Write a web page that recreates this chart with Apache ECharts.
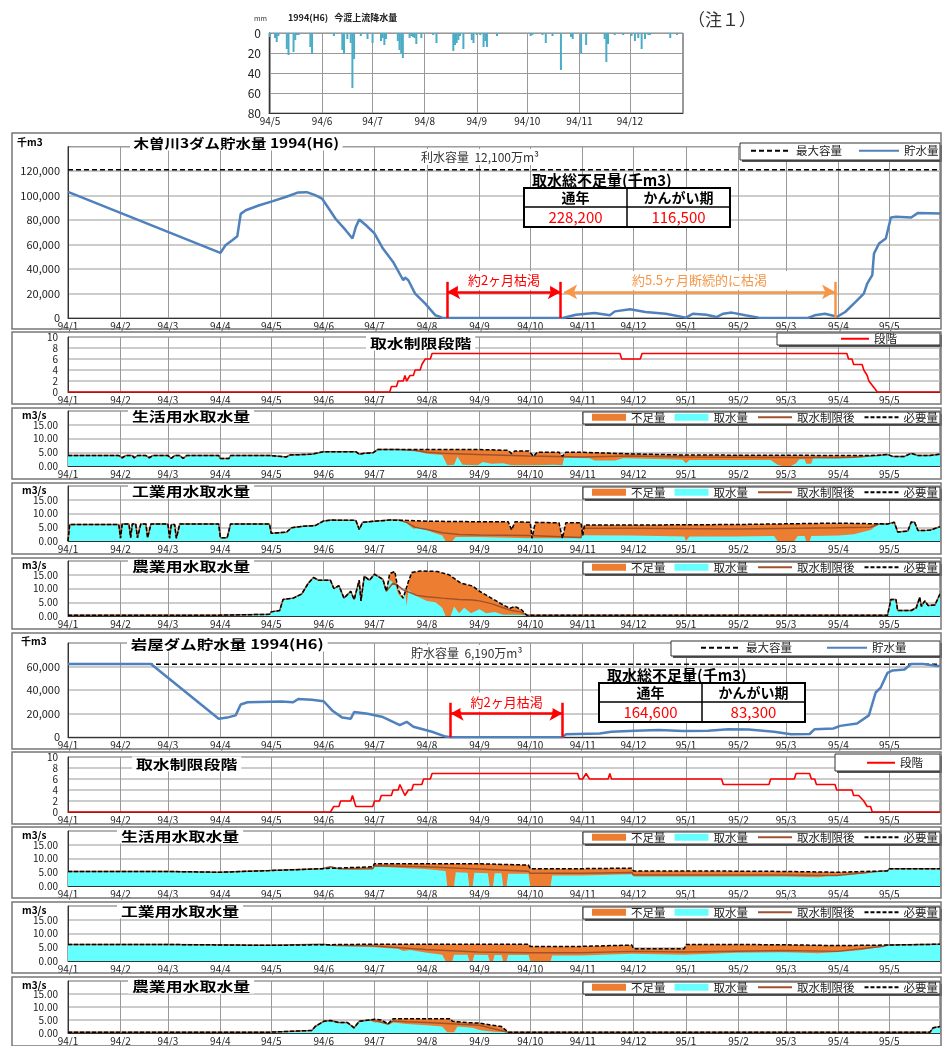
<!DOCTYPE html>
<html>
<head>
<meta charset="utf-8">
<script src="https://cdn.jsdelivr.net/npm/echarts@6/dist/echarts.min.js"></script>
<style>
html,body{margin:0;padding:0;background:#fff;}
#chart{width:942px;height:1046px;}
</style>
</head>
<body>
<div id="chart"></div>
<script>
// ---------------- data ----------------
// daily rainfall upstream of Imawatari (mm)
const rainfall = [['1994-05-01',4],['1994-05-04',5],['1994-05-05',9],['1994-05-06',3],['1994-05-11',16],['1994-05-12',22],['1994-05-15',19],['1994-05-16',7],['1994-05-17',2],['1994-05-18',2],['1994-05-25',14],['1994-05-26',21],['1994-06-08',3],['1994-06-13',17],['1994-06-14',21],['1994-06-16',6],['1994-06-18',10],['1994-06-19',55],['1994-06-20',26],['1994-06-24',3],['1994-06-28',6],['1994-07-01',10],['1994-07-06',8],['1994-07-07',5],['1994-07-08',12],['1994-07-09',6],['1994-07-16',8],['1994-07-17',17],['1994-07-18',20],['1994-07-19',25],['1994-07-23',5],['1994-07-24',3],['1994-07-25',4],['1994-07-26',5],['1994-07-27',11],['1994-07-30',5],['1994-08-06',2],['1994-08-08',10],['1994-08-18',18],['1994-08-19',12],['1994-08-20',10],['1994-08-21',7],['1994-08-22',3],['1994-08-24',16],['1994-08-29',7],['1994-08-30',10],['1994-09-01',2],['1994-09-03',2],['1994-09-05',14],['1994-09-06',8],['1994-09-07',14],['1994-09-13',3],['1994-10-03',3],['1994-10-04',2],['1994-10-10',2],['1994-10-12',10],['1994-10-16',3],['1994-10-21',37],['1994-10-27',4],['1994-10-28',6],['1994-11-02',20],['1994-11-05',12],['1994-11-16',6],['1994-11-17',29],['1994-11-18',11],['1994-11-22',2],['1994-11-27',2],['1994-12-02',3],['1994-12-04',8],['1994-12-06',5],['1994-12-08',16],['1994-12-10',6],['1994-12-12',2],['1994-12-13',2],['1994-12-25',5],['1994-12-29',2]];

// Kiso river 3 dams: storage (thousand m3)
const kisoCapacity = 121000;
const kisoStorage = [['1994-01-01',103000],['1994-04-01',53100],['1994-04-04',59400],['1994-04-08',63500],['1994-04-11',66800],['1994-04-13',85000],['1994-04-16',88000],['1994-04-24',92000],['1994-05-02',95400],['1994-05-10',99000],['1994-05-17',102500],['1994-05-22',102700],['1994-05-27',100300],['1994-05-31',97500],['1994-06-04',89400],['1994-06-08',81000],['1994-06-14',71700],['1994-06-18',64900],['1994-06-20',74400],['1994-06-22',80400],['1994-06-26',75700],['1994-07-01',69000],['1994-07-06',56700],['1994-07-12',45800],['1994-07-18',30800],['1994-07-19',33000],['1994-07-21',30800],['1994-07-25',19900],['1994-07-31',11700],['1994-08-06',2200],['1994-08-10',300],['1994-08-14',0],['1994-10-20',0],['1994-10-28',2700],['1994-11-08',4000],['1994-11-17',2200],['1994-11-20',5400],['1994-11-29',7100],['1994-12-08',4900],['1994-12-20',3500],['1995-01-01',300],['1995-01-05',3500],['1995-01-13',2700],['1995-01-19',800],['1995-01-23',3500],['1995-01-28',4400],['1995-02-05',2200],['1995-02-13',300],['1995-03-14',0],['1995-03-18',2200],['1995-03-24',3500],['1995-03-29',1900],['1995-03-31',800],['1995-04-05',4900],['1995-04-11',13000],['1995-04-16',19900],['1995-04-18',28000],['1995-04-21',35000],['1995-04-22',52600],['1995-04-25',60800],['1995-04-29',64900],['1995-05-02',82000],['1995-05-05',82600],['1995-05-14',82000],['1995-05-18',85800],['1995-05-31',85300]];
const kisoStage = [['1994-01-01',0],['1994-07-10',0],['1994-07-11',1],['1994-07-14',1],['1994-07-15',2],['1994-07-18',2],['1994-07-19',3],['1994-07-20',2],['1994-07-21',2],['1994-07-22',3],['1994-07-24',3],['1994-07-25',4],['1994-07-28',4],['1994-07-29',5],['1994-07-30',5],['1994-07-31',6],['1994-08-03',6],['1994-08-04',7],['1994-11-23',7],['1994-11-24',6],['1994-12-05',6],['1994-12-06',7],['1995-04-06',7],['1995-04-07',6],['1995-04-09',6],['1995-04-10',5],['1995-04-15',5],['1995-04-16',4],['1995-04-18',3],['1995-04-19',2],['1995-04-20',2],['1995-04-24',0],['1995-05-31',0]];
const kisoShortage = {annual:'228,200', irrigation:'116,500'};

// intake (m3/s): required, actual intake and restricted target during the restriction period
const kisoDomRequired = [['1994-01-01',3.8],['1994-01-31',3.8],['1994-02-02',3.0],['1994-02-04',3.8],['1994-02-08',3.8],['1994-02-09',3.0],['1994-02-11',3.8],['1994-02-16',3.8],['1994-02-18',3.0],['1994-02-20',3.8],['1994-03-01',3.8],['1994-03-03',2.8],['1994-03-05',3.8],['1994-03-08',3.8],['1994-03-10',2.8],['1994-03-12',3.8],['1994-03-31',3.8],['1994-04-01',2.7],['1994-04-06',2.7],['1994-04-07',3.8],['1994-04-30',3.8],['1994-05-01',3.3],['1994-05-10',3.3],['1994-05-12',4.0],['1994-05-25',4.3],['1994-06-01',5.2],['1994-06-20',5.2],['1994-06-22',4.3],['1994-06-25',4.6],['1994-06-30',4.8],['1994-07-03',6.0],['1994-08-31',6.0],['1994-09-01',5.7],['1994-09-18',5.7],['1994-09-20',4.5],['1994-09-22',5.5],['1994-09-30',5.5],['1994-10-01',5.0],['1994-10-03',3.5],['1994-10-05',5.0],['1994-10-18',5.0],['1994-10-20',3.5],['1994-10-22',5.0],['1994-10-31',5.0],['1994-11-01',4.4],['1994-11-30',4.4],['1994-12-01',4.0],['1994-12-31',4.0],['1995-01-01',3.8],['1995-04-20',3.8],['1995-04-30',4.2],['1995-05-01',4.7],['1995-05-03',3.5],['1995-05-10',3.5],['1995-05-14',4.6],['1995-05-18',3.8],['1995-05-25',3.8],['1995-05-31',4.3]];
const kisoDomIntake = [['1994-07-15',6.0],['1994-07-25',5.5],['1994-08-01',4.5],['1994-08-10',4.0],['1994-08-13',0.3],['1994-08-17',0.5],['1994-08-19',3.5],['1994-08-22',0.5],['1994-08-31',0.3],['1994-09-03',1.5],['1994-09-08',0.8],['1994-09-15',1.0],['1994-09-20',0.3],['1994-10-05',0.3],['1994-10-15',0.5],['1994-10-20',0.3],['1994-10-21',3.0],['1994-11-05',2.8],['1994-11-08',2.0],['1994-11-20',2.0],['1994-11-25',2.8],['1994-12-20',2.5],['1994-12-30',2.3],['1995-01-01',1.0],['1995-01-03',2.2],['1995-02-20',2.2],['1995-02-24',0.5],['1995-02-27',0.0],['1995-03-04',0.0],['1995-03-07',1.0],['1995-03-09',2.5],['1995-03-12',2.5],['1995-03-13',0.8],['1995-03-16',0.8],['1995-03-17',2.8],['1995-04-01',3.0],['1995-04-15',3.2],['1995-04-20',3.6],['1995-04-25',3.8]];
const kisoDomRestricted = [['1994-07-15',6.0],['1994-07-25',5.6],['1994-08-01',5.0],['1994-08-10',4.6],['1994-08-31',4.2],['1994-09-01',3.8],['1994-09-30',3.6],['1994-10-01',3.3],['1994-10-31',3.3],['1994-11-01',3.6],['1994-11-30',3.6],['1994-12-01',3.3],['1994-12-31',3.3],['1995-01-01',3.0],['1995-03-31',3.0],['1995-04-10',3.2],['1995-04-20',3.6],['1995-04-25',3.8]];

const kisoIndRequired = [['1994-01-01',0.0],['1994-01-02',6.0],['1994-01-31',6.0],['1994-02-01',1.0],['1994-02-02',6.2],['1994-02-06',6.2],['1994-02-07',1.2],['1994-02-08',6.2],['1994-02-10',6.2],['1994-02-11',1.2],['1994-02-13',6.2],['1994-02-16',6.2],['1994-02-17',1.2],['1994-02-19',6.2],['1994-03-01',6.2],['1994-03-02',1.0],['1994-03-03',6.0],['1994-03-05',6.0],['1994-03-06',1.0],['1994-03-08',6.2],['1994-03-31',6.2],['1994-04-01',1.2],['1994-04-05',1.2],['1994-04-07',6.2],['1994-04-30',6.2],['1994-05-01',2.8],['1994-05-10',3.2],['1994-05-13',4.8],['1994-05-20',5.4],['1994-05-27',5.6],['1994-06-01',7.3],['1994-06-05',7.6],['1994-06-20',7.5],['1994-06-22',4.2],['1994-06-24',6.8],['1994-07-01',7.2],['1994-07-10',7.6],['1994-07-20',7.5],['1994-08-01',7.2],['1994-08-31',7.0],['1994-09-18',7.0],['1994-09-20',4.0],['1994-09-22',7.0],['1994-10-01',6.8],['1994-10-02',1.0],['1994-10-04',6.8],['1994-10-18',6.6],['1994-10-20',1.0],['1994-10-22',6.6],['1994-10-31',6.6],['1994-11-01',2.0],['1994-11-02',5.8],['1994-11-30',5.8],['1994-12-01',6.0],['1995-01-31',6.0],['1995-02-01',6.5],['1995-03-31',6.5],['1995-04-01',6.2],['1995-04-30',6.2],['1995-05-01',6.6],['1995-05-04',6.8],['1995-05-06',3.3],['1995-05-12',3.6],['1995-05-14',6.9],['1995-05-16',6.8],['1995-05-18',3.8],['1995-05-25',3.9],['1995-05-31',5.2]];
const kisoIndIntake = [['1994-07-15',7.6],['1994-07-20',6.5],['1994-07-24',4.5],['1994-07-28',5.0],['1994-08-01',4.0],['1994-08-05',3.0],['1994-08-10',2.0],['1994-08-12',0.0],['1994-08-16',0.0],['1994-08-18',1.5],['1994-09-01',1.5],['1994-09-30',1.0],['1994-10-31',1.0],['1994-11-01',2.1],['1994-11-30',2.0],['1994-12-01',1.8],['1994-12-31',1.6],['1995-01-01',0.0],['1995-01-03',1.6],['1995-01-31',1.6],['1995-02-01',1.8],['1995-02-22',1.8],['1995-02-24',0.0],['1995-03-06',0.0],['1995-03-08',1.8],['1995-03-12',1.8],['1995-03-13',0.0],['1995-03-15',0.0],['1995-03-16',1.8],['1995-04-01',2.0],['1995-04-10',2.5],['1995-04-20',4.0],['1995-04-25',6.2]];
const kisoIndRestricted = [['1994-07-15',7.6],['1994-07-20',6.8],['1994-07-25',5.0],['1994-08-01',4.2],['1994-08-10',3.0],['1994-08-20',2.4],['1994-09-01',2.2],['1994-09-30',2.0],['1994-10-01',1.5],['1994-10-31',1.3],['1994-11-01',4.6],['1994-11-30',4.6],['1994-12-01',4.4],['1995-01-31',4.4],['1995-02-01',4.8],['1995-03-31',4.8],['1995-04-01',4.6],['1995-04-20',5.0],['1995-04-25',6.2]];

const kisoAgrRequired = [['1994-01-01',0.3],['1994-03-31',0.3],['1994-04-01',0.6],['1994-04-30',0.6],['1994-05-01',1.5],['1994-05-06',2.0],['1994-05-08',6.0],['1994-05-14',6.5],['1994-05-19',8.0],['1994-05-23',12.0],['1994-05-26',14.0],['1994-05-29',13.0],['1994-06-05',13.0],['1994-06-07',10.0],['1994-06-10',11.0],['1994-06-13',6.5],['1994-06-17',9.0],['1994-06-19',6.0],['1994-06-22',13.0],['1994-06-23',5.5],['1994-06-25',14.5],['1994-06-28',13.0],['1994-07-01',15.2],['1994-07-06',13.3],['1994-07-08',9.0],['1994-07-10',15.4],['1994-07-13',16.2],['1994-07-15',9.5],['1994-07-18',6.5],['1994-07-21',12.5],['1994-07-23',15.8],['1994-07-28',16.4],['1994-08-07',16.2],['1994-08-14',15.0],['1994-08-21',12.0],['1994-08-28',10.9],['1994-09-01',9.0],['1994-09-08',6.5],['1994-09-15',4.0],['1994-09-19',2.8],['1994-09-22',3.5],['1994-09-26',2.2],['1994-09-29',0.3],['1995-04-30',0.3],['1995-05-02',6.0],['1995-05-05',6.0],['1995-05-06',2.0],['1995-05-14',2.0],['1995-05-17',3.0],['1995-05-19',6.8],['1995-05-20',3.5],['1995-05-22',5.5],['1995-05-24',3.8],['1995-05-28',4.0],['1995-05-31',8.0]];
const kisoAgrIntake = [['1994-07-08',9.0],['1994-07-10',13.0],['1994-07-13',12.0],['1994-07-15',8.0],['1994-07-18',6.0],['1994-07-19',10.0],['1994-07-20',3.5],['1994-07-21',9.5],['1994-07-25',7.5],['1994-08-01',5.5],['1994-08-06',5.0],['1994-08-10',3.0],['1994-08-12',0.0],['1994-08-15',0.0],['1994-08-17',3.5],['1994-08-20',1.0],['1994-08-23',3.0],['1994-08-27',1.0],['1994-09-01',2.5],['1994-09-05',1.0],['1994-09-10',1.5],['1994-09-15',0.5],['1994-09-22',0.5],['1994-09-29',0.3]];
const kisoAgrRestricted = [['1994-07-08',9.0],['1994-07-12',12.0],['1994-07-15',11.0],['1994-07-18',9.5],['1994-07-22',8.5],['1994-07-26',7.5],['1994-08-01',7.0],['1994-08-10',6.5],['1994-08-20',6.0],['1994-08-28',5.8],['1994-09-01',5.5],['1994-09-08',4.5],['1994-09-15',3.0],['1994-09-20',2.0],['1994-09-25',1.5],['1994-09-29',0.3]];

// Iwaya dam
const iwayaCapacity = 61900;
const iwayaStorage = [['1994-01-01',62200],['1994-02-19',62200],['1994-03-31',15800],['1994-04-05',16700],['1994-04-10',18600],['1994-04-13',27800],['1994-04-17',29700],['1994-05-07',30300],['1994-05-14',29700],['1994-05-17',32500],['1994-05-25',31900],['1994-06-01',30600],['1994-06-06',22800],['1994-06-12',16700],['1994-06-17',15800],['1994-06-19',21400],['1994-06-27',20000],['1994-07-06',17200],['1994-07-16',10300],['1994-07-20',13100],['1994-07-24',8900],['1994-08-04',4700],['1994-08-12',600],['1994-08-15',0],['1994-10-20',0],['1994-10-22',2500],['1994-11-11',3300],['1994-11-18',4700],['1994-12-02',5600],['1994-12-16',6100],['1994-12-30',5300],['1995-01-14',5600],['1995-01-26',6900],['1995-02-07',6700],['1995-02-22',4700],['1995-03-04',2500],['1995-03-15',2800],['1995-03-18',6900],['1995-03-29',7500],['1995-04-02',9700],['1995-04-12',11700],['1995-04-19',18600],['1995-04-23',38000],['1995-04-26',42200],['1995-04-30',54700],['1995-05-03',56700],['1995-05-10',57500],['1995-05-14',62200],['1995-05-21',62200],['1995-05-28',60800],['1995-05-31',60500]];
const iwayaStage = [['1994-01-01',0],['1994-06-05',0],['1994-06-07',1],['1994-06-10',1],['1994-06-11',2],['1994-06-17',2],['1994-06-18',3],['1994-06-20',1],['1994-06-30',1],['1994-07-01',2],['1994-07-04',2],['1994-07-05',3],['1994-07-11',3],['1994-07-12',4],['1994-07-15',4],['1994-07-16',5],['1994-07-19',3],['1994-07-21',4],['1994-07-23',4],['1994-07-24',5],['1994-07-29',5],['1994-07-30',6],['1994-08-03',6],['1994-08-04',7],['1994-10-29',7],['1994-10-30',6],['1994-11-01',6],['1994-11-03',7],['1994-11-05',6],['1994-11-16',6],['1994-11-17',7],['1994-11-18',6],['1995-01-22',6],['1995-01-23',5],['1995-02-19',5],['1995-02-20',6],['1995-03-06',6],['1995-03-07',7],['1995-03-15',7],['1995-03-16',6],['1995-03-18',6],['1995-03-19',5],['1995-03-30',5],['1995-03-31',4],['1995-04-09',4],['1995-04-10',3],['1995-04-13',3],['1995-04-16',2],['1995-04-18',1],['1995-04-20',1],['1995-04-21',0],['1995-05-31',0]];
const iwayaShortage = {annual:'164,600', irrigation:'83,300'};

const iwayaDomRequired = [['1994-01-01',5.3],['1994-02-28',5.3],['1994-03-01',5.0],['1994-03-31',5.0],['1994-04-01',5.6],['1994-04-30',5.6],['1994-05-01',6.3],['1994-05-31',6.3],['1994-06-01',7.0],['1994-06-30',7.0],['1994-07-01',8.1],['1994-08-31',8.1],['1994-09-01',7.6],['1994-09-30',7.6],['1994-10-01',6.3],['1994-10-31',6.3],['1994-11-01',6.5],['1994-11-30',6.5],['1994-12-01',5.5],['1994-12-31',5.5],['1995-01-01',5.3],['1995-02-28',5.3],['1995-03-01',5.0],['1995-03-31',5.0],['1995-04-01',5.5],['1995-04-30',5.5],['1995-05-01',6.3],['1995-05-31',6.3]];
const iwayaDomIntake = [['1994-06-05',7.0],['1994-06-08',6.2],['1994-06-20',6.0],['1994-06-30',6.2],['1994-07-01',7.0],['1994-07-10',6.8],['1994-07-20',6.5],['1994-07-31',6.2],['1994-08-01',6.0],['1994-08-12',5.5],['1994-08-13',0.0],['1994-08-17',0.0],['1994-08-18',5.0],['1994-08-25',4.8],['1994-08-26',0.0],['1994-08-28',0.0],['1994-08-29',4.8],['1994-09-06',4.6],['1994-09-07',0.0],['1994-09-09',0.0],['1994-09-10',4.6],['1994-09-14',4.6],['1994-09-15',0.0],['1994-09-17',0.0],['1994-09-18',4.5],['1994-09-30',4.5],['1994-10-01',0.0],['1994-10-13',0.0],['1994-10-14',3.8],['1994-10-31',3.8],['1994-11-01',4.3],['1994-11-30',4.3],['1994-12-01',3.5],['1995-02-28',3.5],['1995-03-01',3.0],['1995-03-20',3.2],['1995-04-01',4.0],['1995-04-15',4.5],['1995-04-28',5.5]];
const iwayaDomRestricted = [['1994-06-05',7.0],['1994-06-10',6.3],['1994-06-30',6.3],['1994-07-01',7.4],['1994-07-31',7.0],['1994-08-01',6.6],['1994-08-31',6.2],['1994-09-01',5.8],['1994-09-30',5.4],['1994-10-01',4.6],['1994-10-31',4.6],['1994-11-01',4.9],['1994-11-30',4.9],['1994-12-01',4.0],['1995-02-28',4.0],['1995-03-01',3.6],['1995-03-31',3.8],['1995-04-01',4.5],['1995-04-28',5.5]];

const iwayaIndRequired = [['1994-01-01',6.0],['1994-02-28',6.0],['1994-03-01',5.7],['1994-04-30',5.7],['1994-05-01',6.1],['1994-06-30',6.1],['1994-07-01',5.9],['1994-09-30',6.1],['1994-10-01',5.3],['1994-10-31',5.3],['1994-11-01',5.8],['1994-11-30',5.8],['1994-12-01',4.5],['1994-12-31',4.5],['1995-01-01',6.0],['1995-01-31',6.0],['1995-02-01',5.9],['1995-02-28',5.9],['1995-03-01',5.6],['1995-03-31',5.6],['1995-04-01',5.8],['1995-04-30',5.8],['1995-05-01',6.1],['1995-05-31',6.1]];
const iwayaIndIntake = [['1994-06-01',6.1],['1994-06-05',5.5],['1994-06-20',5.3],['1994-07-01',5.0],['1994-07-15',4.5],['1994-07-18',3.6],['1994-07-22',4.0],['1994-08-01',3.0],['1994-08-10',2.3],['1994-08-12',0.0],['1994-08-16',0.0],['1994-08-17',2.3],['1994-08-25',2.3],['1994-08-26',0.0],['1994-08-28',0.0],['1994-08-29',2.3],['1994-09-06',2.2],['1994-09-07',0.0],['1994-09-09',0.0],['1994-09-10',2.2],['1994-09-14',2.2],['1994-09-15',0.0],['1994-09-17',0.0],['1994-09-18',2.2],['1994-09-30',2.2],['1994-10-01',0.0],['1994-10-13',0.0],['1994-10-14',2.0],['1994-10-31',2.0],['1994-11-01',2.6],['1994-11-30',2.6],['1994-12-01',2.3],['1994-12-31',2.3],['1995-01-01',3.0],['1995-01-31',3.0],['1995-02-01',3.2],['1995-02-28',3.2],['1995-03-01',2.5],['1995-03-20',2.8],['1995-04-01',3.3],['1995-04-15',4.0],['1995-04-28',5.4]];
const iwayaIndRestricted = [['1994-06-01',6.1],['1994-06-05',5.7],['1994-06-30',5.5],['1994-07-01',5.2],['1994-07-31',4.2],['1994-08-01',3.5],['1994-08-31',3.3],['1994-09-01',3.2],['1994-09-30',3.0],['1994-10-31',3.0],['1994-11-01',3.5],['1994-11-30',3.5],['1994-12-01',3.3],['1994-12-31',3.3],['1995-01-01',3.8],['1995-02-28',3.8],['1995-03-01',3.5],['1995-03-31',3.5],['1995-04-01',3.8],['1995-04-28',5.4]];

const iwayaAgrRequired = [['1994-01-01',0.3],['1994-04-30',0.3],['1994-05-01',1.0],['1994-05-25',1.0],['1994-05-27',2.5],['1994-06-01',4.5],['1994-06-05',4.8],['1994-06-10',4.0],['1994-06-15',4.0],['1994-06-19',2.0],['1994-06-22',4.5],['1994-06-28',5.0],['1994-07-01',5.3],['1994-07-05',5.0],['1994-07-09',3.5],['1994-07-12',5.5],['1994-08-15',5.5],['1994-08-16',4.5],['1994-08-25',4.0],['1994-09-01',3.8],['1994-09-08',3.0],['1994-09-14',2.5],['1994-09-18',0.3],['1995-05-25',0.3],['1995-05-27',2.0],['1995-05-31',2.5]];
const iwayaAgrIntake = [['1994-06-28',5.0],['1994-07-01',4.0],['1994-07-05',4.2],['1994-07-09',3.0],['1994-07-12',4.0],['1994-07-20',3.5],['1994-08-01',3.0],['1994-08-10',2.5],['1994-08-13',0.3],['1994-08-17',0.3],['1994-08-19',2.5],['1994-08-28',2.0],['1994-09-01',1.2],['1994-09-05',0.8],['1994-09-10',0.5],['1994-09-18',0.3]];
const iwayaAgrRestricted = [['1994-06-28',5.0],['1994-07-01',4.8],['1994-07-09',3.5],['1994-07-12',4.6],['1994-07-20',4.3],['1994-08-01',4.0],['1994-08-15',3.6],['1994-09-01',3.0],['1994-09-10',1.5],['1994-09-18',0.3]];

// dry-up spans marked on the storage charts
const kisoDrySpans = [
  {from:'1994-08-13', to:'1994-10-19', text:'約2ヶ月枯渇', color:'#FF0000'},
  {from:'1994-10-21', to:'1995-03-30', text:'約5.5ヶ月断続的に枯渇', color:'#F79646'}
];
const iwayaDrySpans = [
  {from:'1994-08-15', to:'1994-10-20', text:'約2ヶ月枯渇', color:'#FF0000'}
];

// ---------------- helpers ----------------
const FONT = "'Noto Sans CJK JP', 'Noto Sans', sans-serif";
const START = '1994-01-01', END = '1995-05-31';
const DAY = 86400000;
const ORANGE = '#ED7D31', CYAN = '#66FFFF', BROWN = '#A0522D', BLUE = '#4F81BD', RED = '#FF0000';
const NO_SYMBOL = {opacity: 0, color: 'rgba(0,0,0,0)', borderColor: 'rgba(0,0,0,0)', borderWidth: 0};

// required values outside the window, window values inside it
function blend(base, win) {
  const a = win[0][0], b = win[win.length - 1][0];
  return base.filter(p => p[0] < a).concat(win, base.filter(p => p[0] > b));
}
function monthLabelUntil(cutoff) {
  const limit = +new Date(cutoff);
  return function (v) {
    const d = new Date(v);
    if (+d >= limit) return '';
    return d.getDate() === 1 && d.getHours() === 0 ? (d.getFullYear() % 100) + '/' + (d.getMonth() + 1) : '';
  };
}

const grids = [], xAxes = [], yAxes = [], series = [], legends = [], graphics = [];

function addPanel(box, xmin, xmax, cutoff, yOpt) {
  const i = grids.length;
  grids.push(Object.assign({show: true, borderColor: '#444', borderWidth: 1, backgroundColor: '#fff'}, box));
  xAxes.push({
    type: 'time', gridIndex: i, min: xmin, max: xmax,
    minInterval: 28 * DAY, maxInterval: 31 * DAY, splitNumber: 20,
    axisLine: {show: true, onZero: false, lineStyle: {color: '#333'}},
    axisTick: {show: false},
    axisLabel: {formatter: monthLabelUntil(cutoff), fontSize: 10, color: '#222', margin: 3, fontFamily: FONT, hideOverlap: false},
    splitLine: {show: true, lineStyle: {color: '#999', width: 1}}
  });
  yAxes.push(Object.assign({
    type: 'value', gridIndex: i,
    axisLine: {show: true, lineStyle: {color: '#333'}},
    axisTick: {show: false},
    splitLine: {show: true, lineStyle: {color: '#bbb', width: 1.5}}
  }, yOpt, {
    axisLabel: Object.assign({fontSize: 10, color: '#222', margin: 9, fontFamily: FONT, showMaxLabel: false}, yOpt.axisLabel || {})
  }));
  return i;
}

function text(x, y, s, style, extra) {
  graphics.push(Object.assign({
    type: 'text', x: x, y: y, z: 20, silent: true,
    style: Object.assign({text: s, fontFamily: FONT, fontSize: 12, fill: '#222',
      align: 'left', verticalAlign: 'middle', textAlign: 'left', textVerticalAlign: 'middle'}, style)
  }, extra || {}));
}
function rect(x, y, w, h, style, z) {
  graphics.push({type: 'rect', z: z == null ? 20 : z, silent: true, shape: {x: x, y: y, width: w, height: h},
    style: Object.assign({fill: 'none', stroke: '#333', lineWidth: 1}, style)});
}
function line(x1, y1, x2, y2, style, z) {
  graphics.push({type: 'line', z: z == null ? 20 : z, silent: true, shape: {x1: x1, y1: y1, x2: x2, y2: y2},
    style: Object.assign({stroke: '#000', lineWidth: 1}, style)});
}
function legendBox(x, y, w, h) {
  rect(x + 2, y + 2, w, h, {fill: '#555', stroke: 'none'}, 3);
  rect(x, y, w, h, {fill: '#fff', stroke: '#333', lineWidth: 1}, 3);
}
function title(x, y, s, sx) {
  text(x, y, s, {fontSize: 13, fontWeight: 'bold', fill: '#000', backgroundColor: '#fff', padding: [1, 3]}, {scaleX: sx, z: 25});
}

function drySpanMarks(spans, top, arrowAt) {
  const data = [];
  spans.forEach((s, k) => {
    const vStyle = {color: s.color, width: 2.5, type: 'solid'};
    if (k === 0) data.push([{coord: [s.from, 0], symbol: 'none', lineStyle: vStyle, label: {show: false}}, {coord: [s.from, top], symbol: 'none'}]);
    data.push([{coord: [s.to, 0], symbol: 'none', lineStyle: vStyle, label: {show: false}}, {coord: [s.to, top], symbol: 'none'}]);
    data.push([
      {coord: [s.from, arrowAt], symbol: 'arrow', symbolSize: [11, 13], lineStyle: vStyle,
        label: {show: true, position: 'insideMiddleTop', formatter: s.text, color: s.color, fontSize: 13,
          fontFamily: FONT, backgroundColor: '#fff', padding: [3, k === 1 ? 40 : 10], distance: 2}},
      {coord: [s.to, arrowAt], symbol: 'arrow', symbolSize: [11, 13]}
    ]);
  });
  return {silent: true, animation: false, symbol: ['none', 'none'], data: data};
}

function storagePanel(box, yMax, data, capacity, spans, top, arrowAt) {
  const gi = addPanel(box, START, END, '1995-06-01', {min: 0, max: yMax, interval: 20000,
    axisLabel: {formatter: v => v.toLocaleString('en-US'), fontSize: 11, margin: 8}});
  series.push({name: '最大容量', type: 'line', xAxisIndex: gi, yAxisIndex: gi, symbol: 'none', color: '#000',
    lineStyle: {color: '#000', width: 1.5, type: [5, 3]}, data: [[START, capacity], [END, capacity]], z: 3});
  series.push({name: '貯水量', type: 'line', xAxisIndex: gi, yAxisIndex: gi, symbol: 'none', color: BLUE,
    lineStyle: {color: BLUE, width: 2.5}, data: data, z: 4, markLine: drySpanMarks(spans, top, arrowAt)});
  return gi;
}
function stagePanel(box, data) {
  const gi = addPanel(box, START, END, '1995-06-01', {min: 0, max: 10, interval: 2, axisLabel: {showMaxLabel: true, margin: 10}});
  series.push({name: '段階', type: 'line', xAxisIndex: gi, yAxisIndex: gi, symbol: 'none', color: RED,
    lineStyle: {color: RED, width: 1.6}, data: data, z: 4});
  return gi;
}
function waterPanel(box, req, intake, restricted) {
  const gi = addPanel(box, START, END, '1995-06-01', {min: 0, max: 20, interval: 5,
    axisLabel: {formatter: v => v.toFixed(2), margin: 10}});
  const common = {type: 'line', xAxisIndex: gi, yAxisIndex: gi, symbol: 'none'};
  series.push(Object.assign({name: '不足量', data: req, color: ORANGE, lineStyle: {width: 0}, areaStyle: {color: ORANGE, opacity: 1}, z: 2}, common));
  series.push(Object.assign({name: '取水量', data: blend(req, intake), color: CYAN, lineStyle: {width: 0}, areaStyle: {color: CYAN, opacity: 1}, z: 3}, common));
  series.push(Object.assign({name: '取水制限後', data: blend(req, restricted), color: BROWN, lineStyle: {color: BROWN, width: 1.5}, z: 4}, common));
  series.push(Object.assign({name: '必要量', data: req, color: '#000', lineStyle: {color: '#000', width: 1.5, type: [4, 2]}, z: 5}, common));
  return gi;
}
const legendText = {fontSize: 11.5, color: '#222', fontFamily: FONT};
function waterLegend(y) {
  legendBox(583, y, 357, 12);
  legends.push({left: 592, top: y - 0.5, itemWidth: 34, itemHeight: 7, itemGap: 9, padding: 0, selectedMode: false, z: 10,
    textStyle: legendText,
    data: [{name: '不足量', icon: 'rect'}, {name: '取水量', icon: 'rect'},
           {name: '取水制限後', itemStyle: NO_SYMBOL}, {name: '必要量', itemStyle: NO_SYMBOL}]});
}
function shortageTable(x, y, vals) {
  text(x + 8, y - 8, '取水総不足量(千m3)', {fontSize: 15, fontWeight: 'bold', fill: '#000'});
  const w = 206, h = 39, cx1 = x + 51.5, cx2 = x + 154.5;
  rect(x, y, w, h, {fill: '#fff', stroke: '#000', lineWidth: 2}, 18);
  line(x + 103, y, x + 103, y + h, {stroke: '#000', lineWidth: 1.5});
  line(x, y + 19, x + w, y + 19, {stroke: '#000', lineWidth: 1.5});
  const c = {fontSize: 14, fontWeight: 'bold', fill: '#000', align: 'center', textAlign: 'center'};
  text(cx1, y + 10, '通年', c);
  text(cx2, y + 10, 'かんがい期', c);
  const r = {fontSize: 15, fill: '#FF0000', align: 'center', textAlign: 'center'};
  text(cx1, y + 29.5, vals.annual, r);
  text(cx2, y + 29.5, vals.irrigation, r);
}

// ---------------- panels ----------------
const L = 68, R = 2;

// rainfall (hanging bars)
const gRain = addPanel({left: 269, top: 33, width: 414, height: 80, borderColor: '#888'}, '1994-05-01', '1995-01-01', '1994-12-31',
  {min: 0, max: 80, interval: 20, inverse: true, axisLabel: {fontSize: 12, showMaxLabel: true, margin: 8}});
yAxes[gRain].splitLine.lineStyle = {color: '#999', width: 1.2};
series.push({name: '降水量', type: 'bar', xAxisIndex: gRain, yAxisIndex: gRain, data: rainfall, barWidth: 2, color: '#4BACC6', itemStyle: {color: '#4BACC6'}});
text(254, 18, 'mm', {fontSize: 7, fill: '#333'});
text(288, 18, '1994(H6)   今渡上流降水量', {fontSize: 9, fontWeight: 'bold', fill: '#222'});
text(688, 20, '（注１）', {fontSize: 17, fill: '#333'});

// panel frames
const frames = [[12,133,929,196],[12,332,929,72],[12,408,929,71],[12,483,929,71],[12,558,929,71],
                [12,633,929,116],[12,752,929,72],[12,827,929,71],[12,902,929,71],[12,977,929,69]];
frames.forEach(f => rect(f[0], f[1], f[2], f[3], {stroke: '#777', lineWidth: 1.5}, 30));

// Kiso river 3 dams
storagePanel({left: L, right: R, top: 146.5, height: 171.5}, 140000, kisoStorage, kisoCapacity, kisoDrySpans, 29500, 21300);
stagePanel({left: L, right: R, top: 337, height: 55}, kisoStage);
waterPanel({left: L, right: R, top: 411, height: 55}, kisoDomRequired, kisoDomIntake, kisoDomRestricted);
waterPanel({left: L, right: R, top: 486, height: 55}, kisoIndRequired, kisoIndIntake, kisoIndRestricted);
waterPanel({left: L, right: R, top: 561, height: 55}, kisoAgrRequired, kisoAgrIntake, kisoAgrRestricted);

// Iwaya dam
storagePanel({left: L, right: R, top: 643, height: 94.3}, 80000, iwayaStorage, iwayaCapacity, iwayaDrySpans, 29300, 20200);
stagePanel({left: L, right: R, top: 757, height: 55}, iwayaStage);
waterPanel({left: L, right: R, top: 831, height: 55}, iwayaDomRequired, iwayaDomIntake, iwayaDomRestricted);
waterPanel({left: L, right: R, top: 906, height: 55}, iwayaIndRequired, iwayaIndIntake, iwayaIndRestricted);
waterPanel({left: L, right: R, top: 981, height: 55}, iwayaAgrRequired, iwayaAgrIntake, iwayaAgrRestricted);

// titles and units
title(130, 143, '木曽川3ダム貯水量 1994(H6)', 1.19);
title(366, 343, '取水制限段階', 1.3);
title(128, 416, '生活用水取水量', 1.3);
title(128, 491, '工業用水取水量', 1.3);
title(128, 566, '農業用水取水量', 1.3);
title(127, 644, '岩屋ダム貯水量 1994(H6)', 1.27);
title(132, 764, '取水制限段階', 1.3);
title(117, 836, '生活用水取水量', 1.3);
title(117, 911, '工業用水取水量', 1.3);
title(128, 986, '農業用水取水量', 1.3);
[[17, 142, '千m3'], [21, 641, '千m3'], [22, 415, 'm3/s'], [22, 490, 'm3/s'], [22, 565, 'm3/s'],
 [22, 835, 'm3/s'], [22, 910, 'm3/s'], [22, 985, 'm3/s']].forEach(u => text(u[0], u[1], u[2], {fontSize: 10, fontWeight: 'bold', fill: '#000'}));

text(418, 157, '利水容量  12,100万m³', {fontSize: 12, fill: '#333', backgroundColor: '#fff', padding: [2, 3]});
text(408, 653, '貯水容量  6,190万m³', {fontSize: 12, fill: '#333', backgroundColor: '#fff', padding: [2, 3]});

shortageTable(524, 188, kisoShortage);
shortageTable(599, 683, iwayaShortage);

// legends
legendBox(740, 143, 200, 17);
legends.push({left: 750, top: 145, itemWidth: 40, itemHeight: 10, itemGap: 16, padding: 0, selectedMode: false, z: 10,
  textStyle: legendText, data: [{name: '最大容量', itemStyle: NO_SYMBOL}, {name: '貯水量', itemStyle: NO_SYMBOL}]});
legendBox(671, 641, 269, 15);
legends.push({left: 700, top: 642, itemWidth: 40, itemHeight: 10, itemGap: 34, padding: 0, selectedMode: false, z: 10,
  textStyle: legendText, data: [{name: '最大容量', itemStyle: NO_SYMBOL}, {name: '貯水量', itemStyle: NO_SYMBOL}]});
legendBox(777, 333, 163, 12);
legends.push({left: 840, top: 333, itemWidth: 28, itemHeight: 10, padding: 0, selectedMode: false, z: 10,
  textStyle: legendText, data: [{name: '段階', itemStyle: NO_SYMBOL}]});
legendBox(835, 754, 105, 17);
legends.push({left: 866, top: 757, itemWidth: 28, itemHeight: 10, padding: 0, selectedMode: false, z: 10,
  textStyle: legendText, data: [{name: '段階', itemStyle: NO_SYMBOL}]});
waterLegend(412);
waterLegend(487);
waterLegend(562);
waterLegend(832);
waterLegend(907);
waterLegend(982);

const chart = echarts.init(document.getElementById('chart'), null, {renderer: 'canvas'});
chart.setOption({
  animation: false,
  backgroundColor: '#fff',
  textStyle: {fontFamily: FONT},
  grid: grids, xAxis: xAxes, yAxis: yAxes, series: series, legend: legends,
  graphic: {elements: graphics}
});
</script>
</body>
</html>
